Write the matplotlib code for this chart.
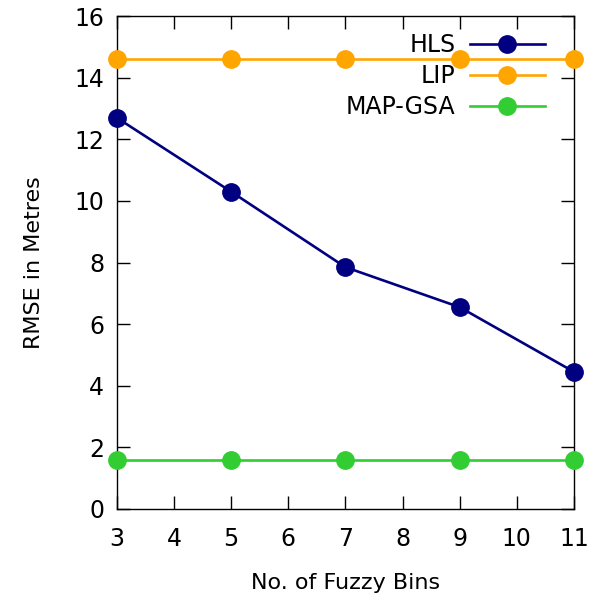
import matplotlib
matplotlib.use("Agg")
import matplotlib.pyplot as plt

# donnees
bins = [3, 5, 7, 9, 11]
hls = [12.7, 10.3, 7.85, 6.55, 4.45]
lip = [14.6, 14.6, 14.6, 14.6, 14.6]
map_gsa = [1.6, 1.6, 1.6, 1.6, 1.6]

fig = plt.figure(figsize=(5.96, 5.98), dpi=100)
ax = fig.add_axes([0.196, 0.149, 0.767, 0.824])

ax.plot(bins, hls, color="#000080", lw=1.9, marker="o", ms=12.5, label="HLS", clip_on=False, zorder=3)
ax.plot(bins, lip, color="#ffa500", lw=1.9, marker="o", ms=12.5, label="LIP", clip_on=False, zorder=3)
ax.plot(bins, map_gsa, color="#32cd32", lw=1.9, marker="o", ms=12.5, label="MAP-GSA", clip_on=False, zorder=3)

ax.set_xlim(3, 11)
ax.set_ylim(0, 16)
ax.set_xticks(range(3, 12))
ax.set_yticks(range(0, 17, 2))
ax.tick_params(direction="in", top=True, right=True, length=9.5, width=1, labelsize=17, pad=9)
ax.tick_params(axis="x", pad=13)
for s in ax.spines.values():
    s.set_linewidth(1)

ax.set_xlabel("No. of Fuzzy Bins", fontsize=16, labelpad=16)
ax.set_ylabel("RMSE in Metres", fontsize=16, labelpad=22)

ax.legend(loc="upper right", frameon=False, markerfirst=False, fontsize=17,
          handlelength=3.2, labelspacing=0.3, borderaxespad=0, borderpad=0,
          handletextpad=0.6, bbox_to_anchor=(0.937, 0.966))

fig.savefig("out.png", dpi=100)
